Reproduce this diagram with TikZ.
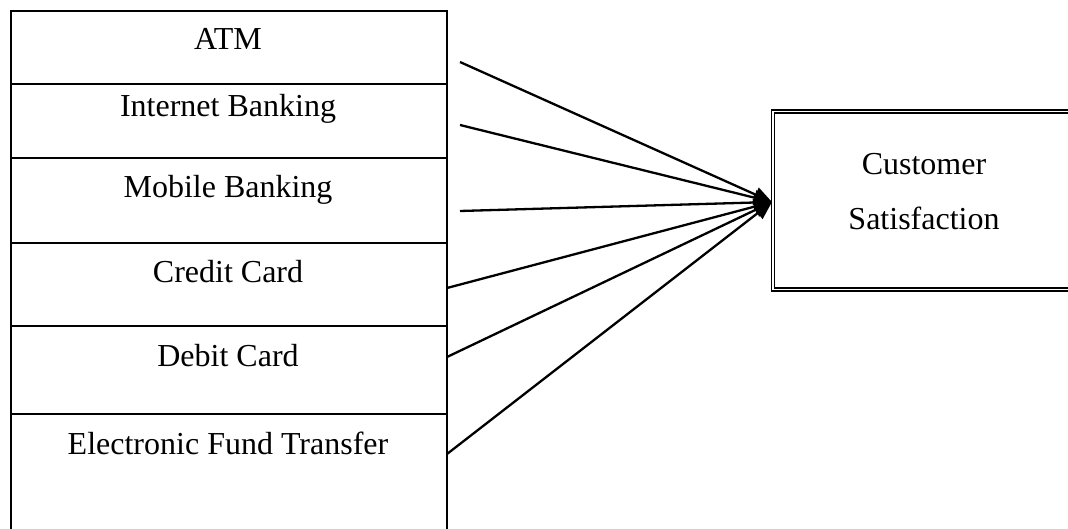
\documentclass[tikz,border=0pt]{standalone}
\usepackage{fontspec}
\setmainfont{Liberation Serif}
\usetikzlibrary{arrows.meta}
\begin{document}
\begin{tikzpicture}[x=1pt,y=-1pt,
  sec/.style={draw, line width=2pt, minimum width=436.5pt, inner sep=0pt, anchor=north west},
  lbl/.style={anchor=base, inner sep=0pt, font=\fontsize{32}{38}\selectfont},
  conn/.style={line width=2.3pt, -{Triangle[length=18pt,width=15pt]}},
  target/.style={draw, double, line width=1.2pt, double distance=1.8pt, inner sep=0pt, anchor=north west}]
\useasboundingbox (0,0) rectangle (1068,529);
% left stacked boxes
\node[sec, minimum height=73pt]  (s1) at (9.5,10) {};
\node[sec, minimum height=74pt]  (s2) at (9.5,83) {};
\node[sec, minimum height=85pt]  (s3) at (9.5,157) {};
\node[sec, minimum height=83pt]  (s4) at (9.5,242) {};
\node[sec, minimum height=88pt]  (s5) at (9.5,325) {};
\node[sec, minimum height=130pt] (s6) at (9.5,413) {};
\node[lbl] (t1) at (228,50)  {ATM};
\node[lbl] (t2) at (228,116.5) {Internet Banking};
\node[lbl] (t3) at (228,198) {Mobile Banking};
\node[lbl] (t4) at (228,283) {Credit Card};
\node[lbl] (t5) at (228,366) {Debit Card};
\node[lbl] (t6) at (228,454) {Electronic Fund Transfer};
% target box
\node[target, minimum width=360pt, minimum height=178pt] (cs) at (772.7,111) {};
\node[lbl] (c1) at (924,175) {Customer};
\node[lbl] (c2) at (924,230) {Satisfaction};
\coordinate (tip) at (772,202);
% connector start points
\coordinate (a1) at (460,62);
\coordinate (a2) at (460,125);
\coordinate (a3) at (460,211);
\coordinate (a4) at (447,288);
\coordinate (a5) at (447,357);
\coordinate (a6) at (447,454);
\foreach \i in {1,...,6} {\draw[conn] (a\i) -- (tip);}
\end{tikzpicture}
\end{document}
